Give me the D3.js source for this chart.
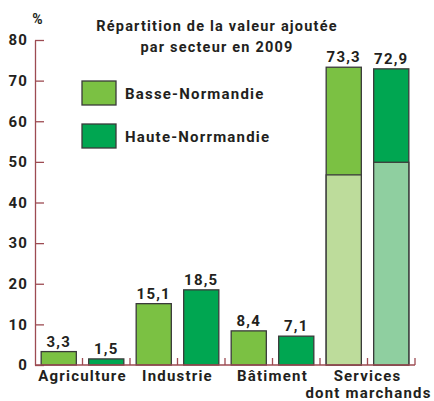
<!DOCTYPE html>
<html>
<head>
<meta charset="utf-8">
<script src="https://cdn.jsdelivr.net/npm/d3@7"></script>
<style>
  body { margin: 0; background: #fff; }
  text { font-family: Roboto, "DejaVu Sans", sans-serif; font-weight: bold; fill: #231f20; letter-spacing: 1.2px; }
</style>
</head>
<body>
<svg id="chart" width="434" height="401"></svg>
<script>
// data
const categories = ['Agriculture', 'Industrie', 'Bâtiment', 'Services']
const regions = ['Basse-Normandie', 'Haute-Norrmandie']
const basseValues = [3.3, 15.1, 8.4, 73.3]
const hauteValues = [1.5, 18.5, 7.1, 72.9]
// lower (lighter) part of the Services bars
const servicesLower = [46.8, 49.9]
const yTicks = [0, 10, 20, 30, 40, 50, 60, 70, 80]

const colors = { basse: '#7bc143', haute: '#00a651', basseLight: '#bddc9b', hauteLight: '#8fcfa0' }
const axisColor = '#9d4b52'
const fmt = v => String(v.toFixed(1)).replace('.', ',')

const svg = d3.select('#chart')
const plotLeft = 35, plotRight = 415, plotTop = 40, plotBottom = 365

// one slot per bar, two bars per category
const bars = []
categories.forEach((c, i) => {
  bars.push({ key: c + '-b', cat: c, value: basseValues[i], color: colors.basse, light: colors.basseLight, lower: i === 3 ? servicesLower[0] : null })
  bars.push({ key: c + '-h', cat: c, value: hauteValues[i], color: colors.haute, light: colors.hauteLight, lower: i === 3 ? servicesLower[1] : null })
})

const x = d3.scaleBand()
  .domain(bars.map(d => d.key))
  .range([plotLeft, plotRight])
  .paddingInner(0.26)
  .paddingOuter(0.13)

const y = d3.scaleLinear()
  .domain([0, 80])
  .range([plotBottom, plotTop])

/* y axis */
const yAxis = svg.append('g')
  .attr('transform', 'translate(' + plotLeft + ',0)')
  .call(d3.axisLeft(y)
    .tickValues(yTicks)
    .tickSizeInner(-9)
    .tickSizeOuter(0)
    .tickPadding(7))
yAxis.select('.domain').attr('stroke', axisColor).attr('stroke-width', 1.3)
yAxis.selectAll('.tick line').attr('stroke', axisColor).attr('stroke-width', 1.3)
yAxis.selectAll('.tick text')
  .attr('font-size', 15)
  .attr('font-family', 'Roboto, sans-serif')
  .attr('font-weight', 'bold')
  .attr('fill', '#231f20')

svg.append('text')
  .attr('x', 38).attr('y', 24)
  .attr('text-anchor', 'middle')
  .attr('font-size', 14)
  .text('%')

/* bars */
const step = x.step()
const barG = svg.append('g')
barG.selectAll('rect.full')
  .data(bars)
  .enter().append('rect')
  .attr('class', 'full')
  .attr('x', d => x(d.key))
  .attr('width', x.bandwidth())
  .attr('y', d => y(d.value))
  .attr('height', d => y(0) - y(d.value))
  .attr('fill', d => d.color)
  .attr('stroke', '#3a3a3a')
  .attr('stroke-width', 1.3)

barG.selectAll('rect.lower')
  .data(bars.filter(d => d.lower !== null))
  .enter().append('rect')
  .attr('class', 'lower')
  .attr('x', d => x(d.key))
  .attr('width', x.bandwidth())
  .attr('y', d => y(d.lower))
  .attr('height', d => y(0) - y(d.lower))
  .attr('fill', d => d.light)
  .attr('stroke', '#3a3a3a')
  .attr('stroke-width', 1.3)

barG.selectAll('text.val')
  .data(bars)
  .enter().append('text')
  .attr('class', 'val')
  .attr('x', d => x(d.key) + x.bandwidth() / 2)
  .attr('y', d => y(d.value) - 5)
  .attr('text-anchor', 'middle')
  .attr('font-size', 15)
  .text(d => fmt(d.value))

/* x axis: baseline with small ticks between slots */
svg.append('line')
  .attr('x1', plotLeft).attr('x2', plotRight)
  .attr('y1', plotBottom).attr('y2', plotBottom)
  .attr('stroke', axisColor).attr('stroke-width', 1.3)

const boundaries = d3.range(1, bars.length + 1).map(i => x.range()[0] + i * step)
svg.selectAll('line.xtick')
  .data(boundaries)
  .enter().append('line')
  .attr('class', 'xtick')
  .attr('x1', d => d).attr('x2', d => d)
  .attr('y1', plotBottom).attr('y2', plotBottom - 7)
  .attr('stroke', axisColor).attr('stroke-width', 1.3)

// category labels centred under each pair
svg.selectAll('text.cat')
  .data(categories)
  .enter().append('text')
  .attr('class', 'cat')
  .attr('x', d => x(d + '-b') - step * 0.13 + step)
  .attr('y', 381)
  .attr('text-anchor', 'middle')
  .attr('font-size', 15)
  .text(d => d)

svg.append('text')
  .attr('x', x('Services-b') - step * 0.13 + step + 1)
  .attr('y', 398)
  .attr('text-anchor', 'middle')
  .attr('font-size', 15)
  .text('dont marchands')

/* title */
const title = svg.append('text')
  .attr('x', 217).attr('y', 31)
  .attr('text-anchor', 'middle')
  .attr('font-size', 14.5)
title.append('tspan').attr('x', 217).text('Répartition de la valeur ajoutée')
title.append('tspan').attr('x', 217).attr('dy', 21).text('par secteur en 2009')

/* legend */
const legend = svg.append('g')
legend.selectAll('rect')
  .data(regions)
  .enter().append('rect')
  .attr('x', 82)
  .attr('y', (d, i) => 81 + i * 43)
  .attr('width', 34).attr('height', 24)
  .attr('fill', (d, i) => i === 0 ? colors.basse : colors.haute)
  .attr('stroke', '#3a3a3a')
  .attr('stroke-width', 1.3)
legend.selectAll('text')
  .data(regions)
  .enter().append('text')
  .attr('x', 125)
  .attr('y', (d, i) => 99 + i * 43)
  .attr('font-size', 15)
  .attr('letter-spacing', 1.4)
  .text(d => d)
</script>
</body>
</html>
